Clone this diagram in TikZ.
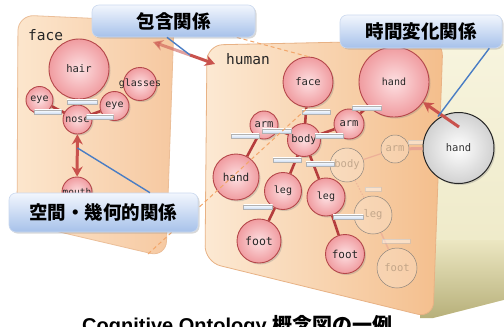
\documentclass[tikz,border=0pt]{standalone}
\usepackage{fontspec}
\newfontfamily\jpfont{Noto Sans CJK JP}
\newfontfamily\monofont{DejaVu Sans Mono}
\newfontfamily\capfont{Liberation Sans}
\usetikzlibrary{arrows.meta,shadows,calc}
\definecolor{pinkin}{HTML}{FDE0E2}
\definecolor{pinkout}{HTML}{F09CA0}
\definecolor{pinkbd}{HTML}{B5474A}
\definecolor{linkc}{HTML}{B53D3D}
\definecolor{arrowc}{HTML}{C9524D}
\definecolor{bluel}{HTML}{4A7DC4}
\definecolor{dashc}{HTML}{F2A66A}
\definecolor{ghosttext}{HTML}{A08870}
\definecolor{ghostlink}{HTML}{E8A594}
\definecolor{tagblue}{HTML}{C9DAF2}
\definecolor{boxtop}{HTML}{F2F6FD}
\definecolor{boxbot}{HTML}{A6C1EA}
\definecolor{boxbd}{HTML}{CBD9EF}
\definecolor{humL}{HTML}{FCE9D3}
\definecolor{humR}{HTML}{F4BE8C}
\definecolor{humbd}{HTML}{E8B285}
\definecolor{faceL}{HTML}{FCE6CD}
\definecolor{faceR}{HTML}{F6C8A0}
\definecolor{facebd}{HTML}{EBBE98}
\definecolor{greentop}{HTML}{F7F4DE}
\definecolor{greenmid}{HTML}{ECE7C2}
\definecolor{greenbot}{HTML}{B7B07A}
\tikzset{
 concept/.style={circle, draw=pinkbd, line width=0.9pt, inner color=pinkin, outer color=pinkout,
   text=black!85, inner sep=0pt, minimum size=#1, font=\monofont\fontsize{10}{10}\selectfont,
   drop shadow={opacity=0.3, shadow xshift=1.5pt, shadow yshift=-1.5pt}},
 ghost/.style={circle, draw=black!55, draw opacity=0.8, line width=0.5pt, fill=white, fill opacity=0.2,
   text=ghosttext, text opacity=0.6, inner sep=0pt, minimum size=#1, font=\monofont\fontsize{10.5}{10.5}\selectfont},
 link/.style={draw=linkc, line width=2.6pt},
 ghostlnk/.style={draw=ghostlink, line width=#1},
 tag/.style={rectangle, draw=black!30, line width=0.3pt, top color=white, bottom color=tagblue,
   minimum height=4.5pt, minimum width=#1, inner sep=0pt,
   drop shadow={opacity=0.25, shadow xshift=0.8pt, shadow yshift=-0.8pt}},
 ghosttag/.style={rectangle, fill=white, fill opacity=0.45, draw=black!25, draw opacity=0.5,
   minimum height=4pt, minimum width=#1, inner sep=0pt},
 labelbox/.style={rectangle, rounded corners=7pt, draw=boxbd, line width=0.6pt, top color=boxtop,
   bottom color=boxbot, font=\jpfont\bfseries\fontsize{18.5}{18.5}\selectfont, text=black,
   drop shadow={opacity=0.3, shadow xshift=1.5pt, shadow yshift=-1.5pt}},
 redarr/.style={draw=arrowc, line width=3pt},
 pointer/.style={draw=bluel, line width=1.4pt},
 mapdash/.style={draw=dashc, line width=1pt, dash pattern=on 4pt off 3pt},
 panellabel/.style={font=\monofont\fontsize{14.5}{14.5}\selectfont, text=black!85, inner sep=0pt},
}
\begin{document}
\begin{tikzpicture}[x=1pt,y=-1pt]
\useasboundingbox (0,0) rectangle (504,327);
\begin{scope}
\clip (0,0) rectangle (504,327);
\fill[white] (0,0) rectangle (504,327);

% panels
\path[top color=greentop, bottom color=greenmid]
  (380,44) -- (515,44) -- (515,297) -- (433,318) -- cycle;
\path[top color=greenmid, bottom color=greenbot]
  (420,240) -- (515,240) -- (515,297) -- (433,318) -- (420,318) -- cycle;
\path[rounded corners=16pt, left color=faceL, right color=faceR, draw=facebd, line width=0.8pt]
  (18,15) -- (174,22) -- (166,257) -- (17,222) -- cycle;
\path[rounded corners=16pt, left color=humL, right color=humR, draw=humbd, line width=0.8pt]
  (207,45) -- (443,40) -- (433,318) -- (205,262) -- cycle;

\node[panellabel, anchor=west] (facelbl) at (28,35) {face};
\node[panellabel, anchor=west] (humanlbl) at (226,59) {human};

% face panel concepts
\node[concept=60pt, font=\monofont\fontsize{10.5}{10.5}\selectfont] (hair) at (79,69) {hair};
\node[concept=33pt, label={[font=\monofont\fontsize{10}{10}\selectfont, text=black!85]center:glasses}] (glasses) at (140,84) {};
\node[concept=27pt] (eyeL) at (39.5,100) {eye};
\node[concept=29pt] (eyeR) at (114.5,106) {eye};
\node[concept=30pt, font=\monofont\fontsize{9.5}{9.5}\selectfont] (mouth) at (77,192) {mouth};
\coordinate (nosec) at (77.5,119.5);
\path[link] (eyeL) -- (nosec);
\path[link] (eyeR) -- (nosec);
\node[concept=29pt] (nose) at (nosec) {nose};
\node[tag=30pt] (t1) at (82,102) {};
\node[tag=27pt] (t2) at (48,112) {};
\node[tag=27pt] (t3) at (100,117) {};

% ghost layer (time change)
\node[ghost=28pt] (armG) at (395,149) {arm};
\node[ghost=34pt] (bodyG) at (347,165) {body};
\node[ghost=38pt] (legG) at (373,215) {leg};
\node[ghost=40pt] (footG) at (397,268) {foot};
\path[ghostlnk=1.2pt, draw opacity=0.7] (bodyG) -- (armG);
\path[ghostlnk=1.2pt, draw opacity=0.5, dash pattern=on 1.5pt off 1.5pt] (bodyG) -- (legG);
\path[ghostlnk=1.5pt, draw opacity=0.6] (legG) -- (footG);
\node[ghosttag=16pt] (gt1) at (416,142) {};
\node[ghosttag=16pt] (gt2) at (373,189) {};
\node[ghosttag=28pt] (gt3) at (396,241) {};

% human concepts
\node[concept=50pt, font=\monofont\fontsize{10.5}{10.5}\selectfont] (hface) at (308,82) {face};
\node[concept=70pt] (handB) at (394,82) {hand};
\node[concept=28pt, font=\monofont\fontsize{10.5}{10.5}\selectfont] (armL) at (264,125) {arm};
\node[concept=33pt, font=\monofont\fontsize{10.5}{10.5}\selectfont] (body) at (304,140) {body};
\node[concept=30pt, font=\monofont\fontsize{10.5}{10.5}\selectfont] (armR) at (349,124) {arm};
\node[concept=46pt, font=\monofont\fontsize{11}{11}\selectfont] (handL) at (236,177) {hand};
\node[concept=37pt] (legL) at (283,191) {leg};
\node[concept=38pt] (legR) at (326,197) {leg};
\node[concept=44pt, font=\monofont\fontsize{11.5}{11.5}\selectfont] (footL) at (259,241) {foot};
\node[concept=39pt, font=\monofont\fontsize{11}{11}\selectfont] (footR) at (345,254) {foot};
\path[link] (hface) -- (body);
\path[link] (body) -- (armL);
\path[link] (body) -- (armR);
\path[link] (armR) -- (handB);
\path[link] (armL) -- (handL);
\path[link] (body) -- (legL);
\path[link] (body) -- (legR);
\path[link] (legL) -- (footL);
\path[link] (legR) -- (footR);
\node[tag=28pt] (h1) at (316,112) {};
\node[tag=29pt] (h2) at (277,131) {};
\node[tag=28pt] (h3) at (245,136) {};
\node[tag=28pt] (h4) at (329,136) {};
\node[tag=29pt] (h5) at (367,108) {};
\node[tag=28pt] (h6) at (287,160) {};
\node[tag=28pt] (h7) at (320,164) {};
\node[tag=29pt] (h8) at (258,207) {};
\node[tag=30pt] (h9) at (348,217) {};

% gray hand (changed state)
\node[circle, draw=black!85, line width=1pt, inner color=white, outer color=black!18, minimum size=71pt,
  inner sep=0pt, text=black!80, font=\monofont\fontsize{10.5}{10.5}\selectfont,
  drop shadow={opacity=0.3, shadow xshift=1.5pt, shadow yshift=-1.5pt}] (ghand) at (458.5,148) {hand};
\path[ghostlnk=3pt] (armG) -- (ghand);

% mapping dashes
\coordinate (fpTR) at (176,21);
\coordinate (fpBR) at (148,254);
\path[mapdash] (fpTR) -- (hface.north);
\path[mapdash] (fpBR) -- (hface.south);

% red relation arrows
\coordinate (a1s) at (153,42);
\coordinate (a1m) at (190,55);
\coordinate (a1e) at (215,64);
\path[redarr, draw opacity=0.55, fill opacity=0.55, -{Stealth[length=10pt,width=11pt]}] (a1m) -- (a1s);
\path[redarr, -{Stealth[length=10pt,width=11pt]}] (a1m) -- (a1e);
\coordinate (a2s) at (459,127);
\path[redarr, -{Stealth[length=10pt,width=11pt]}] (a2s) -- (handB);
\path[redarr, {Stealth[length=10pt,width=11pt]}-{Stealth[length=10pt,width=11pt]}] (nose) -- (mouth);
\coordinate (a2m) at (438,116.5);
\coordinate (a3m) at (77.5,148);

% label boxes
\node[labelbox, minimum width=163pt, minimum height=32pt] (box1) at (173.5,21) {包含関係};
\node[labelbox, minimum width=162pt, minimum height=33pt] (box2) at (421,31.5) {時間変化関係};
\node[labelbox, minimum width=189pt, minimum height=39pt] (box3) at (103.5,212.5) {空間・幾何的関係};

% pointers
\path[pointer] ($(box1.south west)!0.46!(box1.south east)$) -- (a1m);
\path[pointer] ($(box2.south west)!0.92!(box2.south east)$) -- (a2m);
\path[pointer] ($(box3.north west)!0.745!(box3.north east)$) -- (a3m);

% caption (cut off at the lower edge, as in the reference)
\node[anchor=base west, inner sep=0pt, font=\fontsize{20}{20}\selectfont] (caption) at (82,332.5)
  {{\capfont\bfseries Cognitive Ontology }{\jpfont\bfseries 概念図の一例}};
\end{scope}
\end{tikzpicture}
\end{document}
